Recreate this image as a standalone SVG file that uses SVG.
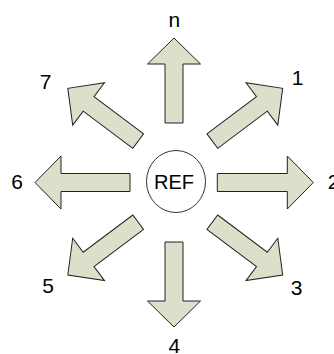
<svg xmlns="http://www.w3.org/2000/svg" width="334" height="354" viewBox="0 0 334 354">
<style>
.arrow{fill:#dcdfca;stroke:#222;stroke-width:1;stroke-linejoin:miter}
.lbl{font-family:"Liberation Sans",Arial,sans-serif;font-size:21px;fill:#000;text-anchor:middle}
.reft{font-size:20px}
.ref{fill:#fff;stroke:#333;stroke-width:1}
</style>
<rect width="334" height="354" fill="#fff"/>
<g id="connectors">
<g id="arrow-n"><polygon class="arrow" transform="translate(174,123) rotate(-90)" points="0,-9 59,-9 59,-26.5 85,0 59,26.5 59,9 0,9"/></g>
<g id="arrow-1"><polygon class="arrow" transform="translate(212.3,141.1) rotate(-36.87)" points="0,-9 62,-9 62,-26.5 88,0 62,26.5 62,9 0,9"/></g>
<g id="arrow-2"><polygon class="arrow" transform="translate(217.3,182.5)" points="0,-9 70,-9 70,-26.5 96,0 70,26.5 70,9 0,9"/></g>
<g id="arrow-3"><polygon class="arrow" transform="translate(212.3,222.2) rotate(36.87)" points="0,-9 62,-9 62,-26.5 88,0 62,26.5 62,9 0,9"/></g>
<g id="arrow-4"><polygon class="arrow" transform="translate(174,242) rotate(90)" points="0,-9 59,-9 59,-26.5 85,0 59,26.5 59,9 0,9"/></g>
<g id="arrow-5"><polygon class="arrow" transform="translate(138.2,222.2) rotate(143.13)" points="0,-9 62,-9 62,-26.5 88,0 62,26.5 62,9 0,9"/></g>
<g id="arrow-6"><polygon class="arrow" transform="translate(130,182.5) rotate(180)" points="0,-9 69,-9 69,-26.5 95,0 69,26.5 69,9 0,9"/></g>
<g id="arrow-7"><polygon class="arrow" transform="translate(138.2,141.1) rotate(-143.13)" points="0,-9 62,-9 62,-26.5 88,0 62,26.5 62,9 0,9"/></g>
</g>
<g id="ref"><ellipse class="ref" cx="176" cy="181.5" rx="29.5" ry="31"/><text class="lbl reft" x="174" y="189">REF</text></g>
<g id="label-n"><text class="lbl" x="174.3" y="26.5">n</text></g>
<g id="label-1"><text class="lbl" x="297.5" y="85">1</text></g>
<g id="label-2"><text class="lbl" x="333.5" y="189">2</text></g>
<g id="label-3"><text class="lbl" x="296.5" y="295">3</text></g>
<g id="label-4"><text class="lbl" x="174.3" y="352.5">4</text></g>
<g id="label-5"><text class="lbl" x="48" y="293">5</text></g>
<g id="label-6"><text class="lbl" x="17" y="188.5">6</text></g>
<g id="label-7"><text class="lbl" x="45.5" y="89">7</text></g>
</svg>
